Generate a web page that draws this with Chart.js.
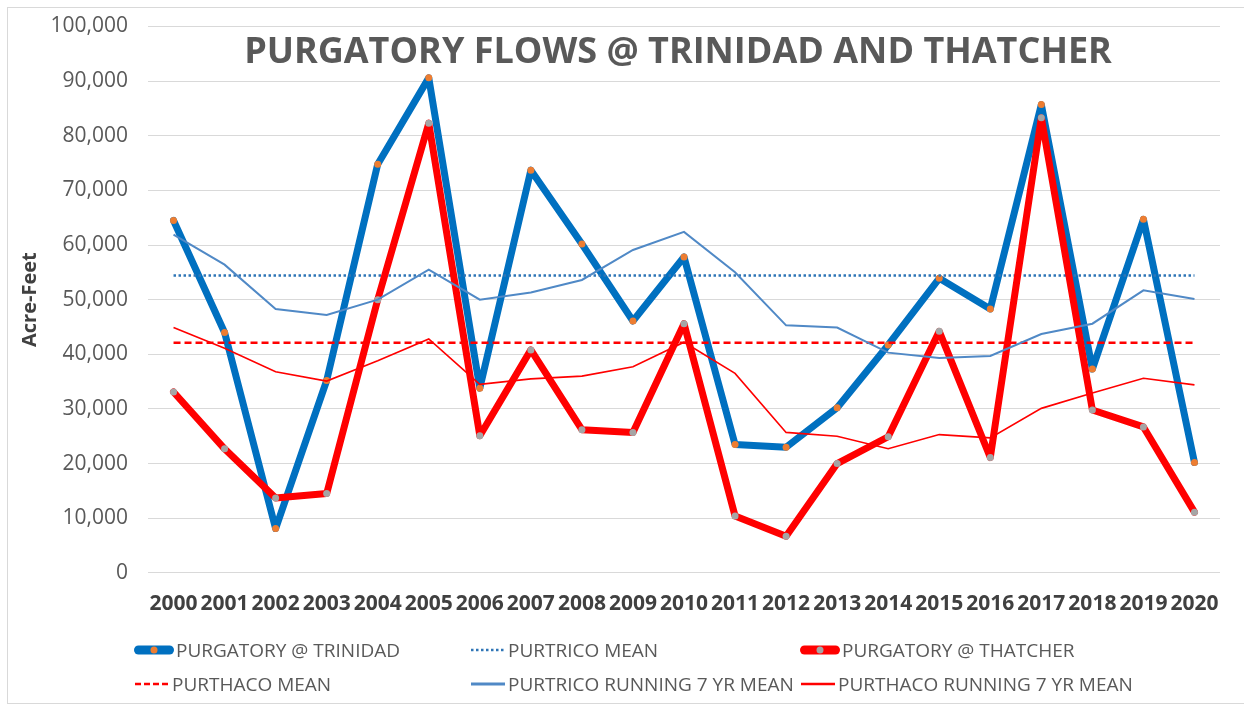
<!DOCTYPE html>
<html>
<head>
<meta charset="utf-8">
<script src="https://cdn.jsdelivr.net/npm/chart.js@4.4.1/dist/chart.umd.min.js"></script>
<style>
  html, body { margin: 0; padding: 0; background: #ffffff; }
  #wrap { position: relative; width: 1244px; height: 706px; overflow: hidden; }
  #c { position: absolute; left: 0; top: 0; }
  #frame { position: absolute; left: 7px; top: 7px; width: 1240px; height: 697px; border: 1px solid #d9d9d9; box-sizing: border-box; pointer-events: none; }
  #title { position: absolute; left: 678px; top: 25px; transform: translateX(-50%); white-space: nowrap;
           font-family: 'Open Sans', sans-serif; font-weight: bold; font-size: 36px; line-height: 49px; color: #595959; }
  #legend { position: absolute; left: 0; top: 0; width: 1244px; height: 706px; pointer-events: none;
            font-family: 'Open Sans', sans-serif; font-size: 19px; color: #595959; }
  .item { position: absolute; height: 30px; display: flex; align-items: center; white-space: nowrap; }
  .item svg { margin-right: 2px; }
</style>
</head>
<body>
<div id="wrap">
  <canvas id="c" width="1244" height="706"></canvas>
  <div id="frame"></div>
  <div id="title"></div>
  <div id="legend"></div>
</div>
<script>
// ---- data ----
const years = ['2000','2001','2002','2003','2004','2005','2006','2007','2008','2009','2010',
               '2011','2012','2013','2014','2015','2016','2017','2018','2019','2020'];

const purgatoryTrinidad = [64500, 44000, 8100, 35200, 74800, 90600, 33800, 73700, 60200, 46100, 57800,
                           23500, 23000, 30200, 41700, 53900, 48300, 85700, 37300, 64700, 20200];

const purgatoryThatcher = [33100, 22700, 13700, 14500, 50000, 82300, 25100, 40800, 26200, 25700, 45600,
                           10400, 6700, 20000, 24900, 44200, 21100, 83300, 29800, 26700, 11100];

const purtricoMean = [54400, 54400, 54400, 54400, 54400, 54400, 54400, 54400, 54400, 54400, 54400,
                      54400, 54400, 54400, 54400, 54400, 54400, 54400, 54400, 54400, 54400];

const purthacoMean = [42100, 42100, 42100, 42100, 42100, 42100, 42100, 42100, 42100, 42100, 42100,
                      42100, 42100, 42100, 42100, 42100, 42100, 42100, 42100, 42100, 42100];

const purtricoRunning7 = [61900, 56400, 48300, 47200, 50000, 55500, 50000, 51300, 53600, 59100, 62400,
                          55000, 45300, 44900, 40300, 39300, 39700, 43700, 45600, 51700, 50100];

const purthacoRunning7 = [44900, 41100, 36800, 35100, 38800, 42800, 34500, 35500, 36000, 37700, 42200,
                          36500, 25700, 25000, 22700, 25300, 24700, 30100, 32900, 35600, 34400];

const yTicks = { min: 0, max: 100000, step: 10000 };
const chartTitle = 'PURGATORY FLOWS @ TRINIDAD AND THATCHER';
const yAxisTitle = 'Acre-Feet';

// ---- chart ----
const datasets = [
  { label: 'PURGATORY @ TRINIDAD', data: purgatoryTrinidad, borderColor: '#0070C0', backgroundColor: '#0070C0',
    borderWidth: 7, pointRadius: 3.5, pointBackgroundColor: '#ED7D31', pointBorderWidth: 0, pointHoverRadius: 3.5,
    borderJoinStyle: 'round', borderCapStyle: 'round', order: 6, _legend: 'marker', _marker: '#ED7D31' },
  { label: 'PURTRICO MEAN', data: purtricoMean, borderColor: '#2E75B6', borderWidth: 2.5, borderDash: [2.5, 2.5],
    pointRadius: 0, order: 5, _legend: 'dot' },
  { label: 'PURGATORY @ THATCHER', data: purgatoryThatcher, borderColor: '#FF0000', backgroundColor: '#FF0000',
    borderWidth: 7, pointRadius: 3.5, pointBackgroundColor: '#A5A5A5', pointBorderWidth: 0, pointHoverRadius: 3.5,
    borderJoinStyle: 'round', borderCapStyle: 'round', order: 4, _legend: 'marker', _marker: '#A5A5A5' },
  { label: 'PURTHACO MEAN', data: purthacoMean, borderColor: '#FF0000', borderWidth: 2.5, borderDash: [7, 4],
    pointRadius: 0, order: 3, _legend: 'dash' },
  { label: 'PURTRICO RUNNING 7 YR MEAN', data: purtricoRunning7, borderColor: '#5089C6', borderWidth: 2,
    pointRadius: 0, order: 2, _legend: 'solid' },
  { label: 'PURTHACO RUNNING 7 YR MEAN', data: purthacoRunning7, borderColor: '#FF0000', borderWidth: 1.6,
    pointRadius: 0, order: 1, _legend: 'solid' }
];

const chart = new Chart(document.getElementById('c'), {
  type: 'line',
  data: { labels: years, datasets: datasets },
  options: {
    responsive: false,
    animation: false,
    layout: { padding: { top: 26.5, left: 6, right: 24, bottom: 70 } },
    plugins: {
      legend: { display: false },
      tooltip: { enabled: false },
      title: { display: false }
    },
    scales: {
      x: {
        offset: true,
        grid: { display: false, drawTicks: false },
        border: { display: false },
        ticks: { color: '#404040', padding: 19, maxRotation: 0, autoSkip: false,
                 font: { family: 'Open Sans', size: 21, weight: 'bold' } }
      },
      y: {
        min: yTicks.min, max: yTicks.max,
        afterFit(scale) { scale.width = 142; scale.paddingTop = 0; scale.paddingBottom = 0; },
        grid: { color: '#d9d9d9', lineWidth: 1, drawTicks: false },
        border: { display: false },
        ticks: { stepSize: yTicks.step, color: '#595959', padding: 20,
                 font: { family: 'Open Sans', size: 21 } },
        title: { display: true, text: yAxisTitle, color: '#404040',
                 font: { family: 'Open Sans', size: 20, weight: 'bold' },
                 padding: { top: 12, bottom: 8 } }
      }
    }
  }
});

document.getElementById('title').textContent = chartTitle;

// ---- HTML legend built from the chart's datasets ----
(function buildLegend() {
  const cols = [134, 470, 800];
  const rows = [635, 669];
  const box = document.getElementById('legend');
  chart.data.datasets.forEach((ds, i) => {
    const col = cols[i % 3], row = rows[Math.floor(i / 3)];
    const w = ds._legend === 'marker' ? 40 : 36;
    let sym = '';
    if (ds._legend === 'marker') {
      sym = `<line x1="4.5" y1="10" x2="${w - 4.5}" y2="10" stroke="${ds.borderColor}" stroke-width="9" stroke-linecap="round"/>` +
            `<circle cx="${w / 2}" cy="10" r="3.5" fill="${ds._marker}"/>`;
    } else if (ds._legend === 'dot') {
      sym = `<line x1="1" y1="10" x2="${w - 1}" y2="10" stroke="${ds.borderColor}" stroke-width="2.5" stroke-dasharray="2.5 2.5"/>`;
    } else if (ds._legend === 'dash') {
      sym = `<line x1="1" y1="10" x2="${w - 1}" y2="10" stroke="${ds.borderColor}" stroke-width="2.5" stroke-dasharray="6 3"/>`;
    } else {
      sym = `<line x1="1" y1="10" x2="${w - 1}" y2="10" stroke="${ds.borderColor}" stroke-width="${ds.borderWidth + 0.8}"/>`;
    }
    const el = document.createElement('div');
    el.className = 'item';
    el.style.left = col + 'px';
    el.style.top = row + 'px';
    el.innerHTML = `<svg width="${w}" height="20" viewBox="0 0 ${w} 20">${sym}</svg><span>${ds.label}</span>`;
    box.appendChild(el);
  });
})();
</script>
</body>
</html>
